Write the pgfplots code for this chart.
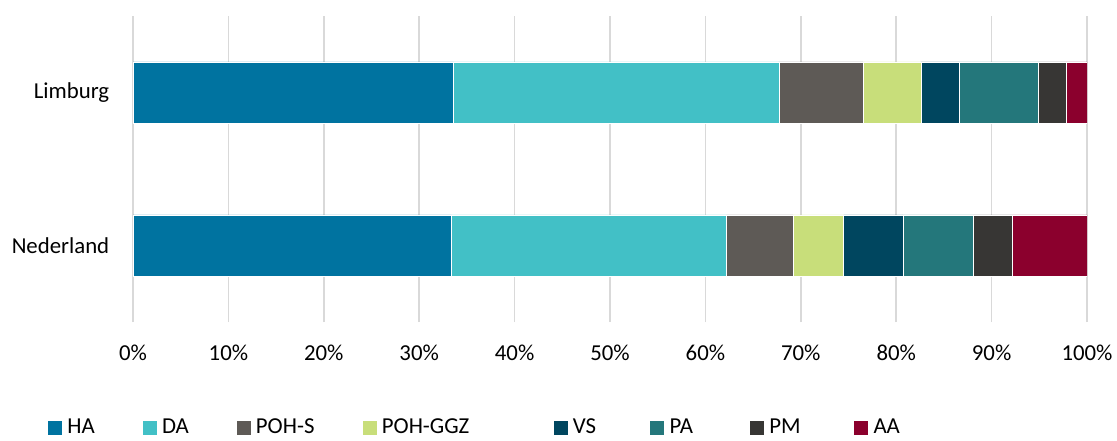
\documentclass[border=0pt]{standalone}
\usepackage{fontspec}
\setmainfont{Carlito}
\usepackage{pgfplots}
\pgfplotsset{compat=1.18}
\definecolor{cHA}{HTML}{0073A0}
\definecolor{cDA}{HTML}{42C0C6}
\definecolor{cPOHS}{HTML}{5E5A56}
\definecolor{cPOHG}{HTML}{C8DE7A}
\definecolor{cVS}{HTML}{00465F}
\definecolor{cPA}{HTML}{24777B}
\definecolor{cPM}{HTML}{373634}
\definecolor{cAA}{HTML}{8B002D}
\definecolor{gridc}{HTML}{D9D9D9}
\newcommand{\lf}{\fontsize{22.8bp}{27bp}\selectfont}
\begin{document}
\lf
\begin{tikzpicture}[x=1bp,y=1bp]
\begin{axis}[
  at={(133bp,119bp)}, anchor=south west,
  scale only axis, width=954bp, height=306bp,
  xbar stacked, bar width=0.4,
  xmin=0, xmax=100, ymin=-0.5, ymax=1.5,
  ytick={0,1}, yticklabels={Nederland,Limburg},
  xtick={0,10,20,30,40,50,60,70,80,90,100},
  xticklabels={0\%,10\%,20\%,30\%,40\%,50\%,60\%,70\%,80\%,90\%,100\%},
  tick label style={font=\lf},
  xticklabel style={yshift=-15bp},
  yticklabel style={xshift=-16bp},
  xmajorgrids, major grid style={color=gridc, line width=1.5bp},
  axis line style={draw=none}, major tick length=0pt,
  every axis plot/.append style={draw=white, line width=0.5bp},
  legend columns=-1,
  legend style={at={(-0.0891,-0.3464)}, anchor=west, draw=none, fill=none,
    inner sep=0pt, font=\lf, nodes={inner xsep=0pt},
    /tikz/every even column/.append style={column sep=0pt}},
  legend image code/.code={\fill[#1,draw=none] (0bp,-7bp) rectangle (14bp,7bp); \path (19bp,0);},
]
\addplot[fill=cHA]   coordinates {(33.4,0) (33.6,1)};
\addplot[fill=cDA]   coordinates {(28.8,0) (34.1,1)};
\addplot[fill=cPOHS] coordinates {(7.0,0) (8.8,1)};
\addplot[fill=cPOHG] coordinates {(5.3,0) (6.1,1)};
\addplot[fill=cVS]   coordinates {(6.2,0) (4.0,1)};
\addplot[fill=cPA]   coordinates {(7.4,0) (8.3,1)};
\addplot[fill=cPM]   coordinates {(4.1,0) (2.9,1)};
\addplot[fill=cAA]   coordinates {(7.8,0) (2.2,1)};
\legend{\makebox[75.3bp][l]{HA},\makebox[74.7bp][l]{DA},\makebox[106.7bp][l]{POH-S},\makebox[171.6bp][l]{POH-GGZ},\makebox[77.7bp][l]{VS},\makebox[80.3bp][l]{PA},\makebox[85bp][l]{PM},AA}
\end{axis}
\pgfresetboundingbox
\useasboundingbox (0,0) rectangle (1117bp,441bp);
\end{tikzpicture}
\end{document}
